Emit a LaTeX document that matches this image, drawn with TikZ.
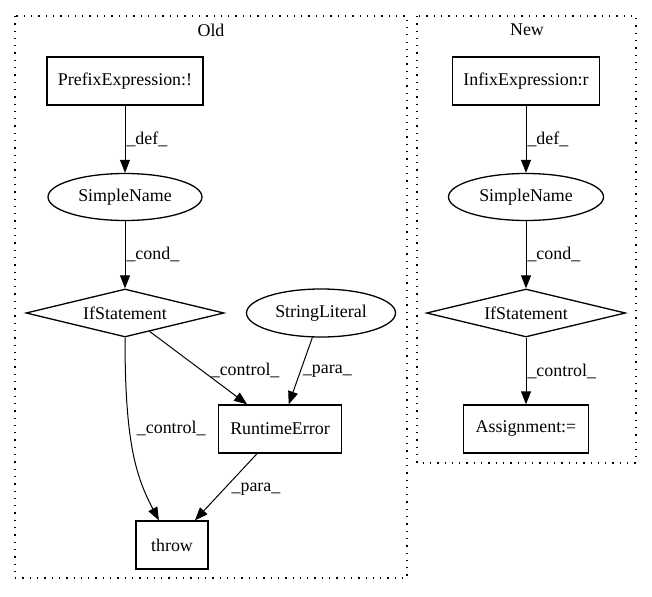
\documentclass[tikz,border=0pt]{standalone}
\usepackage{fontspec}
\setmainfont{Liberation Serif}
\usetikzlibrary{shapes.geometric,arrows.meta}
\begin{document}
\begin{tikzpicture}[x=1pt,y=-1pt,
  every node/.style={font=\fontsize{17.9}{21}\selectfont, inner sep=0pt},
  box/.style={draw, rectangle, line width=1.3pt, minimum height=48pt},
  oval/.style={draw, ellipse, line width=1.3pt, minimum height=47pt},
  dia/.style={draw, diamond, shape aspect=4, line width=1.3pt, minimum height=48pt},
  edge/.style={-{Triangle[length=13pt,width=10pt]}, line width=1pt},
  lab/.style={anchor=west},
  cluster/.style={line width=1.2pt, dash pattern=on 1.3pt off 6pt}
]
\useasboundingbox (0,0) rectangle (652,596);
% clusters
\draw[cluster] (15,16) rectangle (407,578);
\node (old) at (211,30) {Old};
\draw[cluster] (417,16) rectangle (636,463);
\node (new) at (527,30) {New};
% Old nodes
\node[box, minimum width=156pt] (pe) at (125,81) {PrefixExpression:!};
\node[oval, minimum width=154pt] (sn1) at (125,197) {SimpleName};
\node[dia, minimum width=198pt] (if1) at (125,313) {IfStatement};
\node[oval, minimum width=149pt, minimum height=48pt] (sl) at (321,313) {StringLiteral};
\node[box, minimum width=123pt] (re) at (280,429) {RuntimeError};
\node[box, minimum width=72pt] (th) at (172,545) {throw};
% New nodes
\node[box, minimum width=147pt] (ie) at (526,81) {InfixExpression:r};
\node[oval, minimum width=155pt] (sn2) at (526,197) {SimpleName};
\node[dia, minimum width=199pt] (if2) at (526,313) {IfStatement};
\node[box, minimum width=125pt] (as) at (526,429) {Assignment:=};
% Old edges
\draw[edge] (pe) -- node[lab, xshift=1pt]{\_def\_} (sn1);
\draw[edge] (sn1) -- node[lab, xshift=1pt]{\_cond\_} (if1);
\draw[edge] (if1) -- node[lab, pos=0.54, xshift=8pt]{\_control\_} (re);
\draw[edge] (sl) -- node[lab, pos=0.5, xshift=2pt]{\_para\_} (re);
\draw[edge] (re) -- node[lab, pos=0.53, xshift=7pt]{\_para\_} (th);
\draw[edge] (if1.south) .. controls (125,440) and (135,475) .. node[lab, pos=0.375, xshift=7pt]{\_control\_} (th.118);
% New edges
\draw[edge] (ie) -- node[lab, xshift=1pt]{\_def\_} (sn2);
\draw[edge] (sn2) -- node[lab, xshift=1pt]{\_cond\_} (if2);
\draw[edge] (if2) -- node[lab, xshift=1pt]{\_control\_} (as);
\end{tikzpicture}
\end{document}
